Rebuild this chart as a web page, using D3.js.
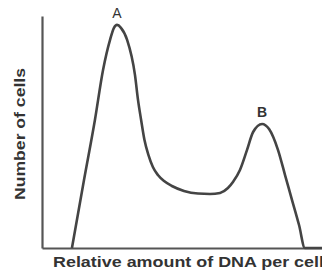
<!DOCTYPE html>
<html>
<head>
<meta charset="utf-8">
<script src="https://cdn.jsdelivr.net/npm/d3@7"></script>
<style>
  body { margin: 0; background: #fff; }
  svg { display: block; }
</style>
</head>
<body>
<svg id="chart" width="322" height="273"></svg>
<script>
// relative DNA amount per cell (x) and number of cells (y)
const dnaAmount = [10.7, 15, 18.9, 21.8, 24.3, 25.7, 26.8, 28.2, 30.4, 33.2, 34.3, 35.4, 36.6, 38.0,
  39.6, 41.4, 43.6, 46.4, 50.7, 55.7, 60.0, 63.6, 66.4, 68.2, 70.7, 73.2, 75.4, 78.6, 81.1, 84.3,
  86.8, 89.3, 91.8, 93.9, 100];
const cellCount = [0, 30.5, 57.4, 79.8, 93.3, 98.7, 100, 98.7, 93.3, 77.6, 66.3, 57.4, 48.4, 41.7,
  36.3, 32.7, 30.0, 27.8, 25.6, 24.4, 24.2, 24.7, 26.9, 29.6, 35.0, 43.9, 52.0, 55.6, 53.3, 43.9,
  32.7, 21.5, 10.3, 0, 0];
const peakLabels = ["A", "B"];
const peakX = [26.8, 78.6];
const peakY = [100, 55.6];

const svg = d3.select("#chart");
const margin = { top: 16, right: 0, bottom: 25, left: 42 };
const width = 322, height = 273;

const x = d3.scaleLinear().domain([0, 100]).range([margin.left, width - margin.right]);
const y = d3.scaleLinear().domain([0, 104]).range([height - margin.bottom, margin.top]);

const data = dnaAmount.map((d, i) => ({ x: d, y: cellCount[i] }));

// axes, no ticks
svg.append("g")
  .attr("transform", "translate(0," + y(0) + ")")
  .call(d3.axisBottom(x).tickValues([]).tickSizeOuter(0))
  .select(".domain").attr("stroke", "#555").attr("stroke-width", 2.2);

svg.append("g")
  .attr("transform", "translate(" + x(0) + ",0)")
  .call(d3.axisLeft(y).tickValues([]).tickSizeOuter(0))
  .select(".domain").attr("stroke", "#555").attr("stroke-width", 2.2);

const line = d3.line()
  .x(d => x(d.x))
  .y(d => y(d.y))
  .curve(d3.curveMonotoneX);

svg.append("path")
  .datum(data)
  .attr("fill", "none")
  .attr("stroke", "#444")
  .attr("stroke-width", 2.6)
  .attr("stroke-linejoin", "round")
  .attr("d", line);

// peak labels
svg.selectAll(".peak")
  .data(peakLabels)
  .join("text")
  .attr("class", "peak")
  .attr("x", (d, i) => x(peakX[i]))
  .attr("y", (d, i) => y(peakY[i]) - 7)
  .attr("text-anchor", "middle")
  .attr("font-family", "Liberation Sans, Arial, sans-serif")
  .attr("font-size", 14)
  .attr("font-weight", (d, i) => i ? "bold" : "normal")
  .attr("fill", "#333")
  .text(d => d);

// axis titles
svg.append("text")
  .attr("x", 53)
  .attr("y", 267)
  .attr("font-family", "Liberation Sans, Arial, sans-serif")
  .attr("font-size", 15)
  .attr("font-weight", "bold")
  .attr("fill", "#333")
  .attr("textLength", 271)
  .attr("lengthAdjust", "spacingAndGlyphs")
  .text("Relative amount of DNA per cell");

svg.append("text")
  .attr("transform", "translate(25,134) rotate(-90)")
  .attr("text-anchor", "middle")
  .attr("font-family", "Liberation Sans, Arial, sans-serif")
  .attr("font-size", 15)
  .attr("font-weight", "bold")
  .attr("fill", "#333")
  .attr("textLength", 132)
  .attr("lengthAdjust", "spacingAndGlyphs")
  .text("Number of cells");
</script>
</body>
</html>
